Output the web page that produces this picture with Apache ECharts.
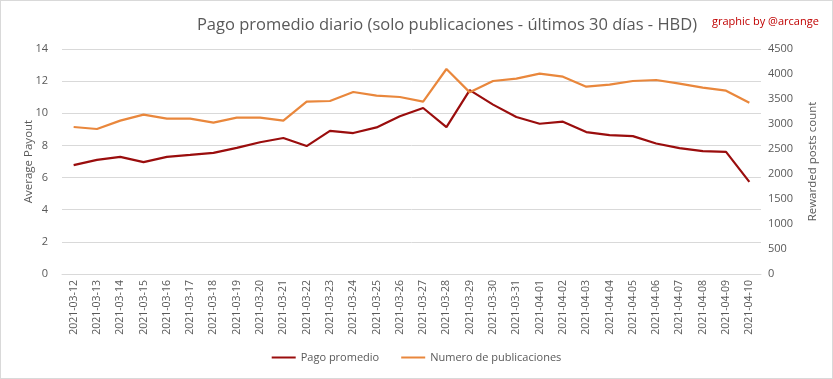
<!DOCTYPE html>
<html><head><meta charset="utf-8">
<script src="https://cdn.jsdelivr.net/npm/echarts@6/dist/echarts.min.js"></script>
<style>
html,body{margin:0;padding:0;background:#fff;}
#c{width:831px;height:377px;border:1px solid #d9d9d9;}
</style></head>
<body><div id="c"></div>
<script>
const categories = ['2021-03-12','2021-03-13','2021-03-14','2021-03-15','2021-03-16','2021-03-17','2021-03-18','2021-03-19','2021-03-20','2021-03-21','2021-03-22','2021-03-23','2021-03-24','2021-03-25','2021-03-26','2021-03-27','2021-03-28','2021-03-29','2021-03-30','2021-03-31','2021-04-01','2021-04-02','2021-04-03','2021-04-04','2021-04-05','2021-04-06','2021-04-07','2021-04-08','2021-04-09','2021-04-10'];
const pagoPromedio = [6.77,7.10,7.29,6.96,7.29,7.41,7.54,7.85,8.20,8.46,7.96,8.91,8.77,9.12,9.81,10.33,9.14,11.44,10.54,9.77,9.35,9.48,8.83,8.64,8.58,8.12,7.83,7.64,7.60,5.73];
const numeroPublicaciones = [2940,2900,3067,3187,3107,3107,3027,3127,3127,3067,3447,3460,3640,3567,3540,3447,4100,3633,3860,3907,4007,3947,3747,3787,3860,3880,3807,3727,3667,3427];
const leftTicks = [0,2,4,6,8,10,12,14];
const rightTicks = [0,500,1000,1500,2000,2500,3000,3500,4000,4500];

const FONT = '"Open Sans", sans-serif';
const chart = echarts.init(document.getElementById('c'));
chart.setOption({
  animation:false,
  textStyle:{fontFamily:FONT},
  title:[
    {text:'Pago promedio diario (solo publicaciones - últimos 30 días - HBD)',left:441,top:11,textAlign:'center',
     textStyle:{fontSize:16.5,fontWeight:'normal',color:'#595959',fontFamily:FONT}},
    {text:'graphic by @arcange',left:706,top:10,textStyle:{fontSize:11,fontWeight:'normal',color:'#c00000',fontFamily:FONT}}
  ],
  legend:{bottom:10,left:'center',itemWidth:24,itemHeight:2,itemGap:22,icon:'rect',
    textStyle:{fontSize:11,color:'#595959',fontFamily:FONT},
    data:['Pago promedio','Numero de publicaciones']},
  grid:{left:61,right:71,top:48,bottom:104,containLabel:false},
  xAxis:{type:'category',data:categories,boundaryGap:true,
    axisLine:{show:true,lineStyle:{color:'#d9d9d9'}},axisTick:{show:false},
    axisLabel:{rotate:90,fontSize:10.5,color:'#595959',margin:6,interval:0,fontFamily:FONT}},
  yAxis:[
    {type:'value',min:leftTicks[0],max:leftTicks[leftTicks.length-1],interval:2,
     name:'Average Payout',nameLocation:'middle',nameGap:27,nameRotate:90,nameMoveOverlap:false,
     nameTextStyle:{fontSize:11.5,color:'#595959',fontFamily:FONT},
     axisLine:{show:false},axisTick:{show:false},
     axisLabel:{fontSize:11,color:'#595959',margin:14,fontFamily:FONT},
     splitLine:{lineStyle:{color:'#d9d9d9'}}},
    {type:'value',min:rightTicks[0],max:rightTicks[rightTicks.length-1],interval:500,
     name:'Rewarded posts count',nameLocation:'middle',nameGap:46,nameRotate:90,nameMoveOverlap:false,
     nameTextStyle:{fontSize:11.5,color:'#595959',fontFamily:FONT},
     axisLine:{show:false},axisTick:{show:false},
     axisLabel:{fontSize:11,color:'#595959',margin:7,fontFamily:FONT,formatter:v=>String(v)},
     splitLine:{show:false}}
  ],
  series:[
    {name:'Pago promedio',type:'line',data:pagoPromedio,yAxisIndex:0,symbol:'none',
     lineStyle:{color:'#9a0d0d',width:2.2},itemStyle:{color:'#9a0d0d'}},
    {name:'Numero de publicaciones',type:'line',data:numeroPublicaciones,yAxisIndex:1,symbol:'none',
     lineStyle:{color:'#e9873c',width:2.2},itemStyle:{color:'#e9873c'}}
  ]
});
</script></body></html>
